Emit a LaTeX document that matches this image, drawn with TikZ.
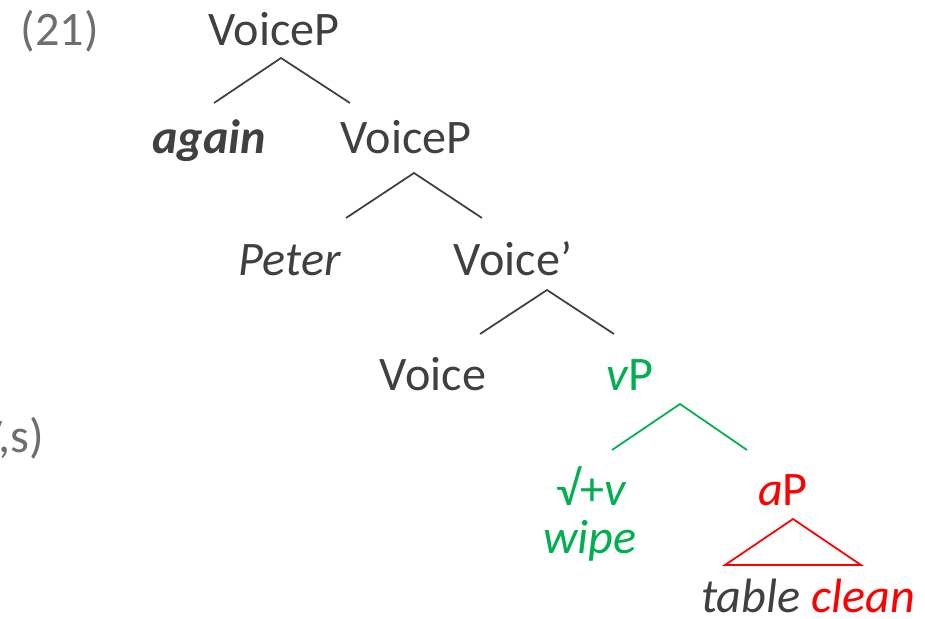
\documentclass[tikz,border=0pt]{standalone}
\usepackage{fontspec}
\setmainfont{Carlito}
\usepackage{tikz}
\usepackage{xcolor}

\definecolor{txtgray}{HTML}{404040}
\definecolor{numgray}{HTML}{6E6E6E}
\definecolor{grn}{HTML}{00B050}
\definecolor{rd}{HTML}{FF0000}

\tikzset{
  lbl/.style={anchor=base,inner sep=0pt,text=txtgray,
    font=\fontsize{13.7pt}{16pt}\selectfont},
  branch/.style={draw=txtgray,line width=.5pt},
}

\begin{document}
\begin{tikzpicture}[x=.01cm,y=-.01cm]
  \useasboundingbox (0,0) rectangle (925,618);
  \clip (0,0) rectangle (925,618);

  \node (num) [lbl,text=numgray] at (60,45) {(21)};
  \node (cut) [lbl,text=numgray,anchor=base east] at (45,452) {(V,s)};

  \node (vp) [lbl] at (274,45) {VoiceP};
  \node (adv) [lbl] at (209,153) {\textbf{\textit{again}}};
  \node (vpp) [lbl] at (406,153) {VoiceP};
  \node (subj) [lbl] at (290,275) {\textit{Peter}};
  \node (vbar) [lbl] at (513,275) {Voice’};
  \node (voice) [lbl] at (433,390) {Voice};
  \node (lv) [lbl,text=grn] at (630,390) {\textit{v}P};
  \node (root) [lbl,text=grn] at (592,505) {√+\textit{v}};
  \node (wipe) [lbl,text=grn] at (590,553) {\textit{wipe}};
  \node (ap) [lbl,text=rd] at (783,505) {\textit{a}P};
  \node (tc) [lbl] at (808,612) {\textit{table} \textcolor{rd}{\textit{clean}}};

  \path (node cs:name=vp,anchor=base) +(7,13) coordinate (vpo) {};
  \path (node cs:name=adv,anchor=base) +(5,-50) coordinate (advi) {};
  \path (node cs:name=vpp,anchor=base) +(-56,-50) coordinate (vppi) {};
  \draw[branch] (advi) -- (vpo) -- (vppi);

  \path (node cs:name=vpp,anchor=base) +(8,20) coordinate (vppo) {};
  \path (node cs:name=subj,anchor=base) +(56,-57) coordinate (subji) {};
  \path (node cs:name=vbar,anchor=base) +(-31,-57) coordinate (vbari) {};
  \draw[branch] (subji) -- (vppo) -- (vbari);

  \path (node cs:name=vbar,anchor=base) +(34,15) coordinate (vbaro) {};
  \path (node cs:name=voice,anchor=base) +(47,-56) coordinate (voicei) {};
  \path (node cs:name=lv,anchor=base) +(-16,-56) coordinate (lvi) {};
  \draw[branch] (voicei) -- (vbaro) -- (lvi);

  \path (node cs:name=lv,anchor=base) +(50,14) coordinate (lvo) {};
  \path (node cs:name=root,anchor=base) +(20,-55) coordinate (rooti) {};
  \path (node cs:name=ap,anchor=base) +(-36,-55) coordinate (api) {};
  \draw[branch,draw=grn] (rooti) -- (lvo) -- (api);

  % the aP is left unanalysed
  \path (node cs:name=ap,anchor=base) +(10,14) coordinate (apo) {};
  \path (node cs:name=tc,anchor=base) +(-83,-47) coordinate (tcl) {};
  \path (node cs:name=tc,anchor=base) +(53,-47) coordinate (tcr) {};
  \draw[branch,draw=rd] (apo) -- (tcl) -- (tcr) -- cycle;
\end{tikzpicture}
\end{document}
